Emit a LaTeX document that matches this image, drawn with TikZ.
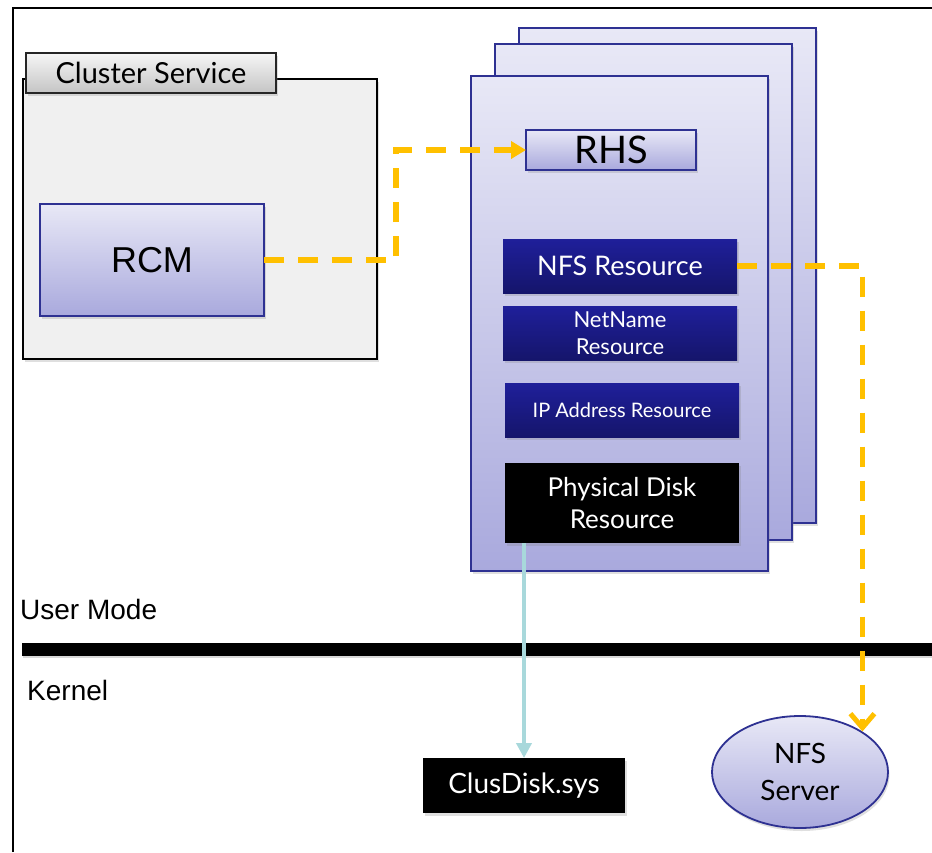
\documentclass[tikz,border=0pt]{standalone}
\usepackage{fontspec}
\setmainfont{Lato}
\newfontfamily\arialfont{Liberation Sans}
\usetikzlibrary{arrows.meta,shadows,shapes.geometric}
\definecolor{rimblue}{HTML}{2E3192}
\definecolor{lavtop}{HTML}{E8E8F6}
\definecolor{lavbot}{HTML}{A9A9DD}
\definecolor{navytop}{HTML}{1F1F9A}
\definecolor{navybot}{HTML}{15156B}
\definecolor{amber}{HTML}{FFC000}
\definecolor{paleteal}{HTML}{A8D8DB}
\definecolor{panelgray}{HTML}{F0F0F0}
\definecolor{tabtop}{HTML}{F6F6F6}
\definecolor{tabbot}{HTML}{C4C4C4}
\begin{document}
\begin{tikzpicture}[x=1pt,y=-1pt,
  box/.style={rectangle, inner sep=0pt, outer sep=0pt, align=center},
  softshadow/.style={drop shadow={shadow xshift=1.5pt, shadow yshift=-3pt, opacity=0.25}},
  purplebox/.style={box, draw=rimblue, line width=1.8pt, top color=lavtop, bottom color=lavbot, softshadow},
  darkbox/.style={box, top color=navytop, bottom color=navybot, text=white, softshadow},
  blackbox/.style={box, fill=black, text=white, softshadow},
  yellowline/.style={draw=amber, line width=5.5pt, dash pattern=on 20pt off 14pt},
  tealarrow/.style={draw=paleteal, line width=4pt, -{Triangle[length=15pt,width=15pt]}},
  fs/.style={font=\fontsize{#1}{#1}\selectfont}
]
\useasboundingbox (0,0) rectangle (932,852);
\fill[white] (0,0) rectangle (932,852);
% outer frame
\draw[line width=2.5pt] (13,852) -- (13,8) -- (932,8);

% Cluster service
\node[box, draw=black, line width=1.5pt, fill=panelgray, softshadow,
      minimum width=354pt, minimum height=280pt] (cluster) at (200,219) {};
\node[box, draw=black!85, line width=1.5pt, top color=tabtop, bottom color=tabbot, softshadow,
      minimum width=250pt, minimum height=40pt, fs=29] (tab) at (151,73) {Cluster Service};
\node[purplebox, minimum width=224pt, minimum height=112pt, font=\arialfont\fontsize{36}{36}\selectfont]
      (rcm) at (152,260) {RCM};

% stacked RHS panels
\node[purplebox, minimum width=297pt, minimum height=495pt] (stackback) at (667.5,275.5) {};
\node[purplebox, minimum width=297pt, minimum height=496pt] (stackmid) at (643.5,292) {};
\node[purplebox, minimum width=297pt, minimum height=495pt] (stackfront) at (619.5,323.5) {};

\node[purplebox, minimum width=170pt, minimum height=40pt, fs=38] (rhs) at (611,150) {RHS};
\node[darkbox, minimum width=234pt, minimum height=54pt, fs=27] (nfsres) at (620,266) {NFS Resource};
\node[darkbox, minimum width=234pt, minimum height=54pt, font=\fontsize{22}{27}\selectfont] (netname) at (620,333) {NetName\\Resource};
\node[darkbox, minimum width=234pt, minimum height=54pt, fs=20] (ipaddr) at (622,410) {IP Address Resource};
\node[blackbox, minimum width=234pt, minimum height=80pt, font=\fontsize{26}{32}\selectfont] (phys) at (622,503) {Physical Disk\\Resource};

% user / kernel separator
\fill[black, drop shadow={shadow xshift=1pt, shadow yshift=-2pt, opacity=0.3}] (22,643) rectangle (932,656);
\node[anchor=base west, inner sep=0pt, font=\arialfont\fontsize{28}{28}\selectfont] (usermode) at (20,619) {User Mode};
\node[anchor=base west, inner sep=0pt, font=\arialfont\fontsize{28}{28}\selectfont] (kernel) at (27,700) {Kernel};

% kernel components
\node[blackbox, minimum width=202pt, minimum height=55pt, fs=28] (clusdisk) at (524,785.5) {ClusDisk.sys};
\node[ellipse, draw=rimblue, line width=1.8pt, top color=lavtop, bottom color=lavbot, softshadow,
      minimum width=176pt, minimum height=112pt, inner sep=0pt, align=center,
      font=\fontsize{28}{37}\selectfont] (nfsserver) at (800,772) {NFS\\Server};

% connectors
\coordinate (bend) at (396,200);
\draw[yellowline, -{Triangle[length=15pt,width=17pt]}] (rcm.east) -- (rcm.east -| bend) |- (rhs.west);
\draw[yellowline, -{Straight Barb[length=14pt,width=24pt,line width=5pt]}] (nfsres.east) -| (nfsserver.33);
\draw[tealarrow] (clusdisk.north |- phys.south) -- (clusdisk.north);
\end{tikzpicture}
\end{document}
